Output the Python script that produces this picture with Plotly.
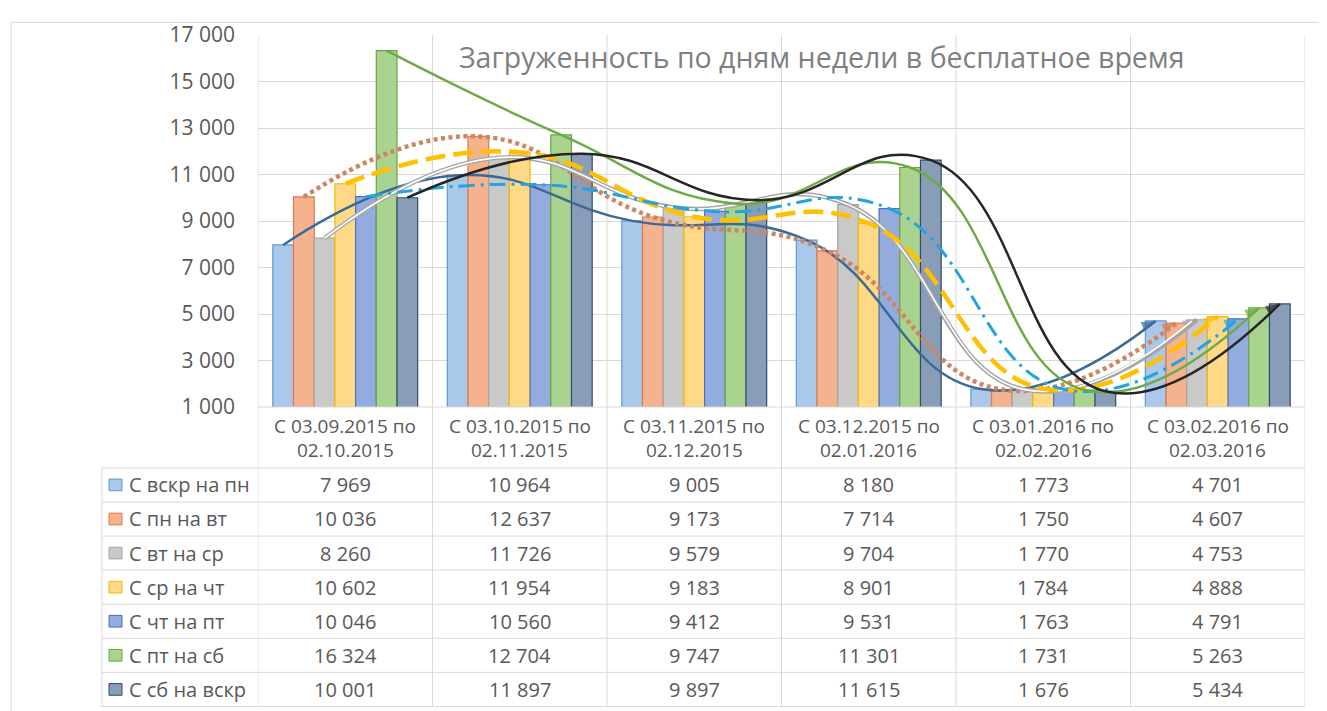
import plotly.graph_objects as go

# ---------------- data ----------------
cat_line1 = ["С 03.09.2015 по", "С 03.10.2015 по", "С 03.11.2015 по",
             "С 03.12.2015 по", "С 03.01.2016 по", "С 03.02.2016 по"]
cat_line2 = ["02.10.2015", "02.11.2015", "02.12.2015",
             "02.01.2016", "02.02.2016", "02.03.2016"]
series_names = ["С вскр на пн", "С пн на вт", "С вт на ср", "С ср на чт",
                "С чт на пт", "С пт на сб", "С сб на вскр"]
s_vskr_pn = [7969, 10964, 9005, 8180, 1773, 4701]
s_pn_vt = [10036, 12637, 9173, 7714, 1750, 4607]
s_vt_sr = [8260, 11726, 9579, 9704, 1770, 4753]
s_sr_cht = [10602, 11954, 9183, 8901, 1784, 4888]
s_cht_pt = [10046, 10560, 9412, 9531, 1763, 4791]
s_pt_sb = [16324, 12704, 9747, 11301, 1731, 5263]
s_sb_vskr = [10001, 11897, 9897, 11615, 1676, 5434]
series_values = [s_vskr_pn, s_pn_vt, s_vt_sr, s_sr_cht, s_cht_pt, s_pt_sb, s_sb_vskr]
y_ticks = [1000, 3000, 5000, 7000, 9000, 11000, 13000, 15000, 17000]
title_text = "Загруженность по дням недели в бесплатное время"

# ---------------- styles ----------------
bar_fill = ["#a9c8ea", "#f5b28e", "#c9c9c9", "#ffd985", "#93acdd", "#aad38f", "#8a9db8"]
bar_line = ["#5b9bd5", "#e07b45", "#a5a5a5", "#f2b900", "#4a72c0", "#6aa443", "#2f4a6e"]
trend_color = ["#3c6a98", "#cf8560", "#a6a6a6", "#ffc000", "#22a4dd", "#6cab46", "#262626"]
trend_dash = ["solid", "4px,3.5px", "solid", "20px,8px", "16px,6px,3px,6px", "solid", "solid"]
trend_width = [2.5, 4.5, 4.5, 4.5, 3, 2.5, 2.5]

FONT = "Open Sans"
TXT = "#595959"
GRID = "#d9d9d9"

# page has an 8px body margin: figure starts at screen (8, 8)
OX, OY = 8, 8
W, H = 1327 - OX, 711 - OY
PLOT_L, PLOT_R, PLOT_T, PLOT_B = 258, 1305, 25, 407   # screen px of plot area
L, R, T, B = PLOT_L - OX, OX + W - PLOT_R, PLOT_T - OY, OY + H - PLOT_B
PW = PLOT_R - PLOT_L
PH = PLOT_B - PLOT_T
BARGAP = 0.17
n_ser = len(series_values)
n_cat = len(cat_line1)


def px_x(px):
    return (px - PLOT_L) / PW


def px_y(py):
    return (PLOT_B - py) / PH


def fmt(v):
    return f"{v:,}".replace(",", " ")


fig = go.Figure()
xs = list(range(n_cat))
for i, (name, vals) in enumerate(zip(series_names, series_values)):
    fig.add_trace(go.Bar(
        x=xs, y=vals, name=name,
        marker=dict(color=bar_fill[i], line=dict(color=bar_line[i], width=1.2)),
        showlegend=False,
    ))

# smoothed lines with arrow heads, at each bar's position
bw = (1 - BARGAP) / n_ser
SMOOTH = 1.3
for i, vals in enumerate(series_values):
    off = -(1 - BARGAP) / 2 + (i + 0.5) * bw
    lx = [x + off for x in xs]
    symbols = ["circle"] * (n_cat - 1) + ["arrow"]
    sizes = [0] * (n_cat - 1) + [15]
    fig.add_trace(go.Scatter(
        x=lx, y=vals, mode="lines+markers",
        line=dict(color=trend_color[i], width=trend_width[i], dash=trend_dash[i],
                  shape="spline", smoothing=SMOOTH),
        marker=dict(symbol=symbols, size=sizes, angleref="previous",
                    color=trend_color[i], line=dict(width=0)),
        showlegend=False, hoverinfo="skip",
    ))
    if i == 2:  # compound (double) line
        fig.add_trace(go.Scatter(
            x=lx[:-1] + [lx[-1] - 0.03], y=vals[:-1] + [vals[-1] - 60], mode="lines",
            line=dict(color="white", width=1.6, shape="spline", smoothing=SMOOTH),
            showlegend=False, hoverinfo="skip",
        ))

shapes = []
table_top = 469.5
row_h = 35
table_bottom = table_top + row_h * n_ser
# chart area border
shapes.append(dict(type="rect", xref="paper", yref="paper",
                   x0=px_x(11), x1=px_x(1345), y0=px_y(12), y1=px_y(730),
                   line=dict(color=GRID, width=1), layer="below"))
# vertical lines at category boundaries (plot + table)
for k in range(n_cat + 1):
    shapes.append(dict(type="line", xref="x", yref="paper",
                       x0=k - 0.5, x1=k - 0.5, y0=px_y(table_bottom), y1=1,
                       line=dict(color=GRID, width=1), layer="below"))
# table horizontal lines
for r in range(n_ser + 1):
    yy = px_y(table_top + r * row_h)
    shapes.append(dict(type="line", xref="paper", yref="paper",
                       x0=px_x(102), x1=1, y0=yy, y1=yy,
                       line=dict(color=GRID, width=1)))
shapes.append(dict(type="line", xref="paper", yref="paper",
                   x0=px_x(102), x1=px_x(102), y0=px_y(table_top), y1=px_y(table_bottom),
                   line=dict(color=GRID, width=1)))
shapes.append(dict(type="line", xref="paper", yref="paper", x0=0, x1=1, y0=0, y1=0,
                   line=dict(color=GRID, width=1)))

annotations = []
annotations.append(dict(text=title_text, xref="paper", yref="paper",
                        x=px_x(822), y=px_y(48), showarrow=False,
                        font=dict(family=FONT, size=28.5, color="#808080"),
                        xanchor="center", yanchor="middle"))
for k in range(n_cat):
    for txt, cy in ((cat_line1[k], 426.5), (cat_line2[k], 451.5)):
        annotations.append(dict(text=txt, xref="x", yref="paper", x=k, y=px_y(cy),
                                showarrow=False, xanchor="center", yanchor="middle",
                                font=dict(family=FONT, size=19, color=TXT)))
for r, (name, vals) in enumerate(zip(series_names, series_values)):
    cy = table_top + (r + 0.5) * row_h
    shapes.append(dict(type="rect", xref="paper", yref="paper",
                       x0=px_x(109), x1=px_x(122), y0=px_y(cy + 6), y1=px_y(cy - 6),
                       fillcolor=bar_fill[r], line=dict(color=bar_line[r], width=1)))
    annotations.append(dict(text=name, xref="paper", yref="paper", x=px_x(127), y=px_y(cy),
                            showarrow=False, xanchor="left", yanchor="middle",
                            font=dict(family=FONT, size=20, color=TXT)))
    for k, v in enumerate(vals):
        annotations.append(dict(text=fmt(v), xref="x", yref="paper", x=k, y=px_y(cy),
                                showarrow=False, xanchor="center", yanchor="middle",
                                font=dict(family=FONT, size=20, color=TXT)))

fig.update_layout(
    width=W, height=H,
    margin=dict(l=L, r=R, t=T, b=B, pad=0),
    paper_bgcolor="white", plot_bgcolor="white",
    barmode="group", bargap=BARGAP, bargroupgap=0,
    shapes=shapes, annotations=annotations,
    xaxis=dict(range=[-0.5, n_cat - 0.5], showticklabels=False, showgrid=False,
               zeroline=False, showline=False, ticks=""),
    yaxis=dict(range=[1000, 17000], tickvals=y_ticks, ticktext=[fmt(v) for v in y_ticks],
               showgrid=True, gridcolor=GRID, gridwidth=1, zeroline=False, showline=False,
               ticks="", ticklabelstandoff=22,
               tickfont=dict(family=FONT, size=21, color=TXT)),
    font=dict(family=FONT, color=TXT),
)

fig.write_html("out.html")
